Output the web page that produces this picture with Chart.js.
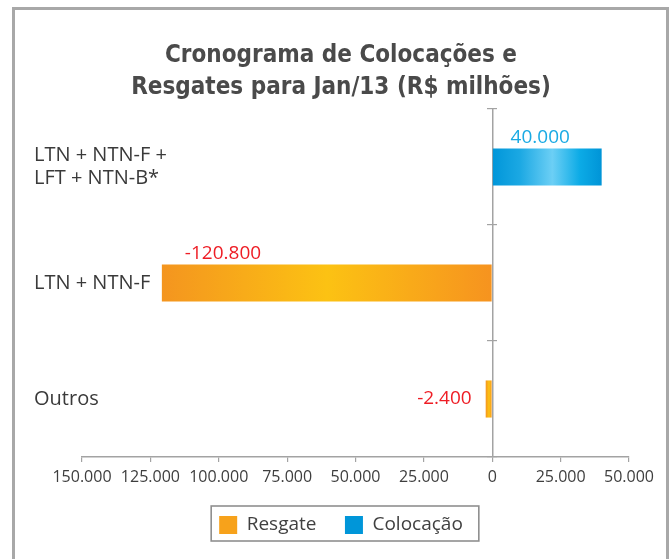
<!DOCTYPE html>
<html><head><meta charset="utf-8">
<script src="https://cdn.jsdelivr.net/npm/chart.js@4.4.1/dist/chart.umd.min.js"></script>
<style>
html,body{margin:0;padding:0;background:#fff;}
#wrap{position:relative;width:672px;height:559px;overflow:hidden;}
#frame{position:absolute;left:12px;top:7px;width:651px;height:600px;border:3px solid #a8a8a8;pointer-events:none;}
canvas{position:absolute;left:0;top:0;}
</style></head><body>
<div id="wrap"><canvas id="c" width="672" height="559"></canvas><div id="frame"></div></div>
<script>
// ---- data ----
const titleLines = ['Cronograma de Colocações e', 'Resgates para Jan/13 (R$ milhões)'];
const categories = [['LTN + NTN-F +', 'LFT + NTN-B*'], 'LTN + NTN-F', 'Outros'];
const seriesNames = ['Resgate', 'Colocação'];
const resgate = [null, -120800, -2400];
const colocacao = [40000, null, null];
const xTickValues = [-150000, -125000, -100000, -75000, -50000, -25000, 0, 25000, 50000];
const xTickLabels = ['150.000', '125.000', '100.000', '75.000', '50.000', '25.000', '0', '25.000', '50.000'];

// ---- helpers ----
function fmt(v) {
  const s = Math.abs(v).toString().replace(/\B(?=(\d{3})+(?!\d))/g, '.');
  return (v < 0 ? '-' : '') + s;
}
function barGradient(stops, solid) {
  return function (ctx) {
    const chart = ctx.chart;
    if (!chart.chartArea || ctx.type !== 'data' || ctx.raw == null) return solid;
    const xs = chart.scales.x;
    const a = xs.getPixelForValue(0), b = xs.getPixelForValue(ctx.raw);
    const g = chart.ctx.createLinearGradient(Math.min(a, b), 0, Math.max(a, b) + 0.01, 0);
    stops.forEach(s => g.addColorStop(s[0], s[1]));
    return g;
  };
}
const orangeStops = [[0, '#f4951f'], [0.5, '#fcc213'], [1, '#f6931f']];
const blueStops = [[0, '#0096d9'], [0.25, '#1ba8e3'], [0.55, '#6ccff5'], [0.8, '#0cabe6'], [1, '#0094d7']];

const valueLabels = {
  id: 'valueLabels',
  afterDatasetsDraw(chart, args, opts) {
    const ctx = chart.ctx;
    ctx.save();
    ctx.font = '19px "Open Sans"';
    ctx.textBaseline = 'middle';
    chart.data.datasets.forEach((ds, di) => {
      const meta = chart.getDatasetMeta(di);
      meta.data.forEach((el, i) => {
        const v = ds.data[i];
        const p = opts.placements[di][i];
        if (v == null || !p) return;
        const left = Math.min(el.x, el.base), right = Math.max(el.x, el.base);
        const top = el.y - el.height / 2;
        ctx.fillStyle = v < 0 ? opts.negColor : opts.posColor;
        let x, y;
        if (p.mode === 'aboveStart') { ctx.textAlign = 'left'; x = left + p.dx; y = top + p.dy; }
        else if (p.mode === 'aboveCenter') { ctx.textAlign = 'center'; x = (left + right) / 2 + p.dx; y = top + p.dy; }
        else { ctx.textAlign = 'right'; x = left + p.dx; y = el.y + p.dy; }
        ctx.fillText(fmt(v), x, y);
      });
    });
    ctx.restore();
  }
};

const legendFrame = {
  id: 'legendFrame',
  afterDraw(chart) {
    const lg = chart.legend;
    if (!lg || !lg.legendHitBoxes || !lg.legendHitBoxes.length) return;
    const hb = lg.legendHitBoxes;
    const l = Math.min(...hb.map(h => h.left)) - 8;
    const r = Math.max(...hb.map(h => h.left + h.width)) + 16;
    const t = hb[0].top - 9.5;
    const b = hb[0].top + hb[0].height + 6.5;
    const ctx = chart.ctx;
    ctx.save();
    ctx.strokeStyle = '#8f8f8f';
    ctx.lineWidth = 1.6;
    ctx.strokeRect(l, t, r - l, b - t);
    ctx.restore();
  }
};

const bodyFont = '"Open Sans", "DejaVu Sans", sans-serif';
const axisGray = '#a3a3a3';

new Chart(document.getElementById('c'), {
  type: 'bar',
  data: {
    labels: categories,
    datasets: [
      { label: seriesNames[0], data: resgate, xAxisID: 'x', yAxisID: 'y',
        backgroundColor: barGradient(orangeStops, '#f7a21b'), borderWidth: 0,
        categoryPercentage: 0.32, barPercentage: 1 },
      { label: seriesNames[1], data: colocacao, xAxisID: 'x', yAxisID: 'y',
        backgroundColor: barGradient(blueStops, '#1aa5e1'), borderWidth: 0,
        categoryPercentage: 0.32, barPercentage: 1 }
    ]
  },
  options: {
    indexAxis: 'y',
    responsive: false,
    animation: false,
    events: [],
    devicePixelRatio: 1,
    layout: { padding: { left: 53, right: 43, top: 0, bottom: 14.5 } },
    scales: {
      x: {
        type: 'linear', position: 'bottom', stacked: true,
        min: -150000, max: 50000,
        afterBuildTicks: s => { s.ticks = xTickValues.map(v => ({ value: v })); },
        afterFit: s => { s.height = 30; },
        ticks: { autoSkip: false, maxRotation: 0, padding: 6, color: '#3e3e3e',
                 font: { family: bodyFont, size: 16 },
                 callback: (v, i) => xTickLabels[i] },
        grid: { drawOnChartArea: false, tickLength: 5, color: axisGray, lineWidth: 1.2 },
        border: { color: axisGray, width: 1.5 }
      },
      y: {
        type: 'category', position: 'left', stacked: true, offset: true,
        afterFit: s => { s.width = 29; },
        ticks: { mirror: true, padding: -48, crossAlign: 'near', color: '#3a3a3a',
                 font: { family: bodyFont, size: 20, lineHeight: '23px' } },
        grid: { display: false },
        border: { display: false }
      },
      y2: {
        type: 'category', axis: 'y', labels: categories, position: { x: 0 }, offset: true,
        ticks: { display: false },
        grid: { offset: true, drawOnChartArea: false, tickLength: 5, color: axisGray, lineWidth: 1.2 },
        border: { color: axisGray, width: 1.5 }
      },
      y3: {
        type: 'category', axis: 'y', labels: categories, position: { x: 0 }, offset: true,
        ticks: { display: false },
        grid: { offset: true, drawOnChartArea: false, tickLength: -5, color: axisGray, lineWidth: 1.2 },
        border: { display: false }
      }
    },
    plugins: {
      title: {
        display: true, text: titleLines, color: '#4a4a4a',
        font: { family: "'DejaVu Sans Condensed', 'DejaVu Sans', sans-serif",
                size: 24, weight: 'bold', lineHeight: '32px' },
        padding: { top: 40, bottom: 5 }
      },
      legend: {
        display: true, position: 'bottom',
        labels: { boxWidth: 18, boxHeight: 18, padding: 28.5, color: '#404040',
                  font: { family: bodyFont, size: 19 } }
      },
      tooltip: { enabled: false },
      valueLabels: {
        negColor: '#ee1d25', posColor: '#1aaae4',
        placements: [
          [null, { mode: 'aboveStart', dx: 23, dy: -11 }, { mode: 'before', dx: -14, dy: 0 }],
          [{ mode: 'aboveCenter', dx: -7, dy: -11 }, null, null]
        ]
      }
    }
  },
  plugins: [valueLabels, legendFrame]
});
</script>
</body></html>
